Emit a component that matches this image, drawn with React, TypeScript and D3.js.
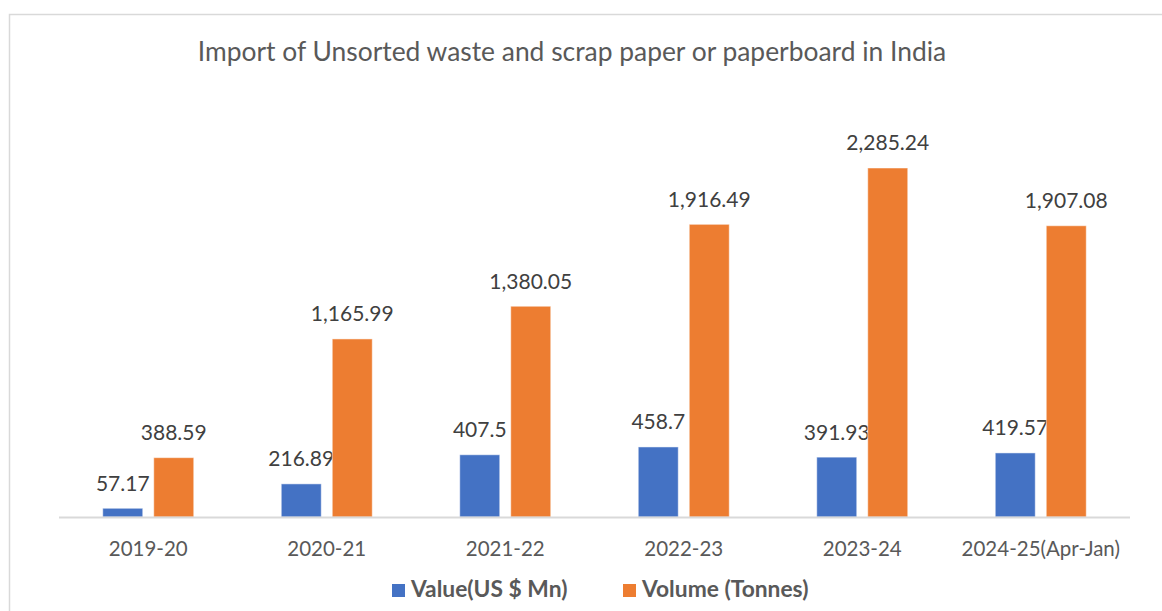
import React from "react";
import * as d3 from "d3";

const categories = ["2019-20", "2020-21", "2021-22", "2022-23", "2023-24", "2024-25(Apr-Jan)"];
const valueSeries = [57.17, 216.89, 407.5, 458.7, 391.93, 419.57];
const volumeSeries = [388.59, 1165.99, 1380.05, 1916.49, 2285.24, 1907.08];
const valueLabels = ["57.17", "216.89", "407.5", "458.7", "391.93", "419.57"];
const volumeLabels = ["388.59", "1,165.99", "1,380.05", "1,916.49", "2,285.24", "1,907.08"];
const seriesNames = ["Value(US $ Mn)", "Volume (Tonnes)"];
const colors = ["#4472C4", "#ED7D31"];
const title = "Import of Unsorted waste and scrap paper or paperboard in India";

const W = 1162, H = 611;
const baseY = 517;
const fontLab = "Lato, 'Open Sans', sans-serif";

export default function App() {
  const x0 = d3.scaleBand<string>().domain(categories).range([59, 1130]).paddingInner(0).paddingOuter(0);
  const x1 = d3.scaleBand<string>().domain(seriesNames).range([43.75, 134.75]).paddingInner(0.2157).paddingOuter(0);
  const y = d3.scaleLinear().domain([0, 2500]).range([baseY, baseY - 2500 * 0.15272]);
  const data = [valueSeries, volumeSeries];
  const labels = [valueLabels, volumeLabels];

  return (
    <svg width={W} height={H} style={{ position: "absolute", left: 0, top: 0, background: "#fff" }}>
      <rect x={9.5} y={14.5} width={1170} height={620} fill="#fff" stroke="#d9d9d9" strokeWidth={1.5} />
      <text x={572} y={61} textAnchor="middle" fontFamily={fontLab} fontSize={26.4} fill="#595959">{title}</text>
      {categories.map((c, i) => (
        <g key={c}>
          {seriesNames.map((s, si) => {
            const v = data[si][i];
            const bx = (x0(c) as number) + (x1(s) as number);
            const by = y(v);
            return (
              <g key={s}>
                <rect x={bx} y={by} width={x1.bandwidth()} height={baseY - by} fill={colors[si]} stroke="#ffffff" strokeOpacity={0.5} strokeWidth={1} />
                <text x={bx + x1.bandwidth() / 2} y={by - 17.5} textAnchor="middle" fontFamily={fontLab} fontSize={21} fill="#404040">{labels[si][i]}</text>
              </g>
            );
          })}
          <text x={(x0(c) as number) + x0.bandwidth() / 2} y={556} textAnchor="middle" fontFamily={fontLab} fontSize={20.5} fill="#595959">{c}</text>
        </g>
      ))}
      <line x1={59} x2={1130} y1={baseY + 0.5} y2={baseY + 0.5} stroke="#d9d9d9" strokeWidth={2} />
      <g>
        <rect x={392} y={584} width={13} height={13} fill={colors[0]} />
        <text x={411} y={597} fontFamily={fontLab} fontWeight="bold" fontSize={22.8} fill="#595959">{seriesNames[0]}</text>
        <rect x={623} y={584} width={13} height={13} fill={colors[1]} />
        <text x={642} y={597} fontFamily={fontLab} fontWeight="bold" fontSize={22.8} fill="#595959">{seriesNames[1]}</text>
      </g>
    </svg>
  );
}
